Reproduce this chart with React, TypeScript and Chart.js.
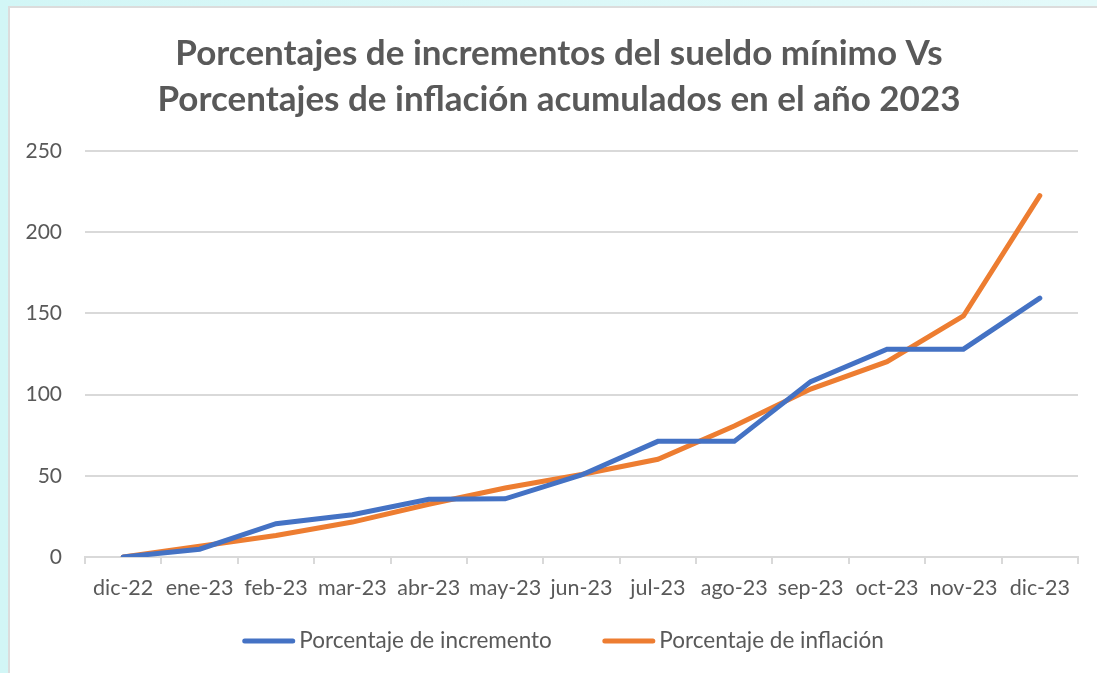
import React, { useEffect, useRef } from "react";
import { Chart, registerables } from "chart.js";

Chart.register(...registerables);

const categories = ["dic-22", "ene-23", "feb-23", "mar-23", "abr-23", "may-23", "jun-23", "jul-23", "ago-23", "sep-23", "oct-23", "nov-23", "dic-23"];
const incremento = [0, 4.8, 20.5, 26, 35.5, 35.8, 50.5, 71.2, 71.2, 108, 128, 128, 159.4];
const inflacion = [0, 6.6, 13.2, 21.5, 32.5, 42.5, 50.8, 60.2, 80.7, 103.4, 120.3, 148.4, 222.5];
const titleLines = ["Porcentajes de incrementos del sueldo mínimo Vs", "Porcentajes de inflación acumulados en el año 2023"];
const seriesNames = ["Porcentaje de incremento", "Porcentaje de inflación"];

const TEXT = "#595959";
const GRID = "#d9d9d9";
const FONT = "Lato, 'Open Sans', sans-serif";

// Shift the built-in title so it is centred over the whole frame, as in the reference
const titleShift = {
  id: "titleShift",
  afterLayout(chart: any) {
    const t = chart.titleBlock;
    if (t) {
      t.left += 40;
    }
  },
};

// Legend drawn with Excel-like spacing (line sample, small gap, text)
const bottomLegend = {
  id: "bottomLegend",
  afterDraw(chart: any) {
    const ctx = chart.ctx;
    const sets = chart.data.datasets;
    const fontSize = 22.5;
    const lineLen = 48;
    const lw = 5;
    const gapText = 4 + lw / 2;
    const gapItems = 48 + lw / 2;
    const cy = 641;
    ctx.save();
    ctx.font = `${fontSize}px ${FONT}`;
    const widths = sets.map((d: any) => lw / 2 + lineLen + gapText + ctx.measureText(d.label).width);
    const total = widths.reduce((a: number, b: number) => a + b, 0) + gapItems * (sets.length - 1);
    let x = 563 - total / 2;
    sets.forEach((d: any, i: number) => {
      const x0 = x + lw / 2;
      ctx.strokeStyle = d.borderColor;
      ctx.lineWidth = lw;
      ctx.lineCap = "round";
      ctx.beginPath();
      ctx.moveTo(x0, cy);
      ctx.lineTo(x0 + lineLen, cy);
      ctx.stroke();
      ctx.fillStyle = TEXT;
      ctx.textAlign = "left";
      ctx.textBaseline = "middle";
      ctx.fillText(d.label, x0 + lineLen + gapText, cy);
      x += widths[i] + gapItems;
    });
    ctx.restore();
  },
};

export default function App() {
  const ref = useRef<HTMLCanvasElement | null>(null);

  useEffect(() => {
    if (!ref.current) return;
    const chart = new Chart(ref.current, {
      type: "line",
      data: {
        labels: categories,
        datasets: [
          {
            label: seriesNames[0],
            data: incremento,
            borderColor: "#4472C4",
            backgroundColor: "#4472C4",
            borderWidth: 5,
            pointRadius: 0,
            borderCapStyle: "round",
            borderJoinStyle: "miter",
            tension: 0,
          },
          {
            label: seriesNames[1],
            data: inflacion,
            borderColor: "#ED7D31",
            backgroundColor: "#ED7D31",
            borderWidth: 5,
            pointRadius: 0,
            borderCapStyle: "round",
            borderJoinStyle: "miter",
            tension: 0,
          },
        ],
      },
      plugins: [titleShift, bottomLegend],
      options: {
        responsive: false,
        animation: false,
        layout: { padding: { top: 10, left: 0, right: 19, bottom: 52 } },
        plugins: {
          tooltip: { enabled: false },
          legend: { display: false },
          title: {
            display: true,
            text: titleLines,
            color: TEXT,
            font: { family: FONT, size: 35, weight: "bold", lineHeight: 1.3 },
            padding: { top: 21, bottom: 29 },
          },
        },
        scales: {
          x: {
            offset: true,
            grid: {
              display: true,
              offset: true,
              drawOnChartArea: false,
              drawTicks: true,
              tickLength: 7,
              color: GRID,
              lineWidth: 2,
            },
            border: { display: true, color: GRID, width: 2 },
            ticks: { color: TEXT, font: { family: FONT, size: 21.5 }, padding: 11, maxRotation: 0, autoSkip: false },
            afterFit: (s: any) => {
              s.height = 64;
            },
          },
          y: {
            min: 0,
            max: 250,
            ticks: { stepSize: 50, color: TEXT, font: { family: FONT, size: 21 }, padding: 23 },
            grid: { color: GRID, lineWidth: 2, drawTicks: false },
            border: { display: false },
            afterFit: (s: any) => {
              s.width = 85;
            },
          },
        },
      },
    });
    return () => chart.destroy();
  }, []);

  return (
    <div style={{ position: "fixed", left: 0, top: 0, width: 1097, height: 673, background: "linear-gradient(to right, #d2f6f6, #e4fafa)", overflow: "hidden" }}>
      <div style={{ position: "absolute", left: 8, top: 6, width: 1200, height: 800, background: "#ffffff", borderLeft: "2px solid #dcdcdc", borderTop: "2px solid #dcdcdc" }} />
      <canvas ref={ref} width={1097} height={673} style={{ position: "absolute", left: 0, top: 0, width: 1097, height: 673 }} />
    </div>
  );
}
